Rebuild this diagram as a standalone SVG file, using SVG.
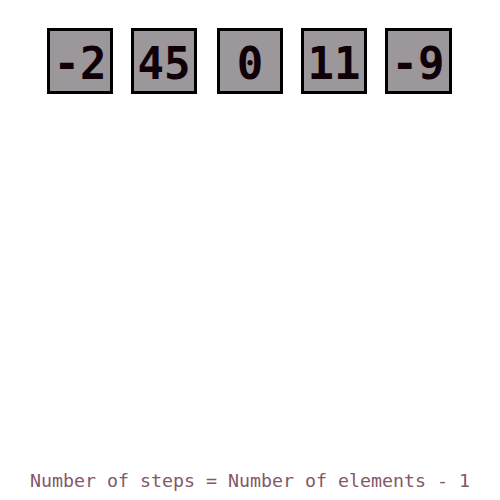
<svg xmlns="http://www.w3.org/2000/svg" width="500" height="500" viewBox="0 0 500 500">
<style>
.box{fill:#9b979a;stroke:#000;stroke-width:3}
.num{font-family:"DejaVu Sans Mono","Liberation Mono",monospace;font-weight:bold;font-size:44px;fill:#100008;text-anchor:middle}
.cap{font-family:"DejaVu Sans Mono","Liberation Mono",monospace;font-size:18.3px;fill:#835868;text-anchor:middle}
</style>
<rect width="500" height="500" fill="#fff"/>
<g id="n1"><rect class="box" x="48.5" y="29.5" width="63" height="63"/><text class="num" x="80" y="79">-2</text></g>
<g id="n2"><rect class="box" x="132.5" y="29.5" width="63" height="63"/><text class="num" x="164" y="79">45</text></g>
<g id="n3"><rect class="box" x="218.5" y="29.5" width="63" height="63"/><text class="num" x="250" y="79">0</text></g>
<g id="n4"><rect class="box" x="302.5" y="29.5" width="63" height="63"/><text class="num" x="334" y="79">11</text></g>
<g id="n5"><rect class="box" x="386.5" y="29.5" width="64" height="63"/><text class="num" x="418" y="79">-9</text></g>
<g id="connectors"></g>
<text class="cap" x="250" y="487">Number of steps = Number of elements - 1</text>
</svg>
